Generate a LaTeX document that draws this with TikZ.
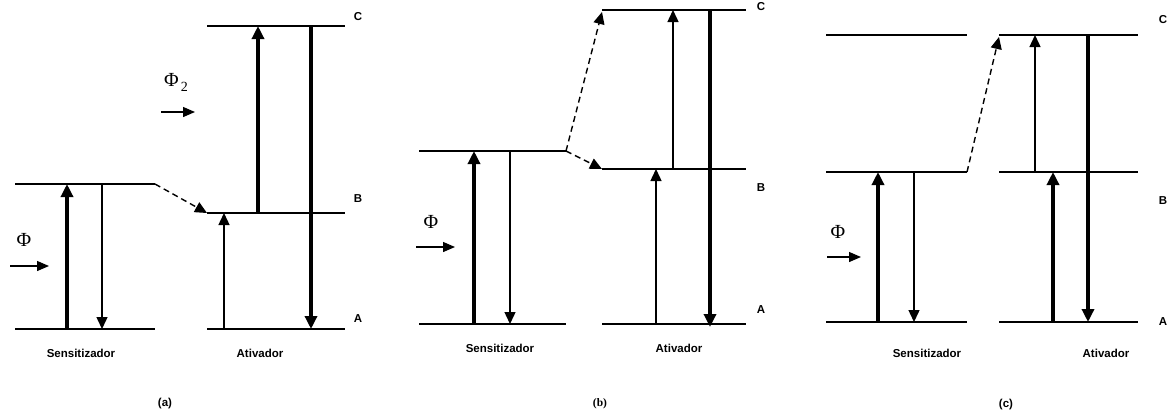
\documentclass[tikz,border=0pt]{standalone}
\usepackage{fontspec}
\setmainfont{Liberation Sans}
\newfontfamily\serifgr{Liberation Serif}
\usetikzlibrary{arrows.meta}
\begin{document}
\begin{tikzpicture}[x=1pt,y=-1pt,
 level/.style={line width=1.2pt},
 thinarr/.style={line width=1.4pt,-{Triangle[length=12pt,width=11pt]}},
 thickarr/.style={line width=3.6pt,-{Triangle[length=13pt,width=12pt]}},
 transfer/.style={line width=1.4pt,dash pattern=on 6pt off 4pt,-{Triangle[length=12pt,width=11pt]}},
 lbl/.style={font=\bfseries\fontsize{11.5}{13}\selectfont, inner sep=0pt},
 phi/.style={font=\serifgr\fontsize{20}{22}\selectfont, inner sep=0pt},
 flux/.style={line width=1.3pt,-{Triangle[length=12pt,width=10pt]}}]
\useasboundingbox (0,0) rectangle (1173,416);
% ---------------- panel (a)
\coordinate (aS1l) at (15,184); \coordinate (aS1r) at (155,184);
\coordinate (aS0l) at (15,329); \coordinate (aS0r) at (155,329);
\coordinate (aACl) at (207,26); \coordinate (aACr) at (345,26);
\coordinate (aABl) at (207,213); \coordinate (aABr) at (345,213);
\coordinate (aAAl) at (207,329); \coordinate (aAAr) at (345,329);
\draw[level] (aS1l) -- (aS1r);
\draw[level] (aS0l) -- (aS0r);
\draw[level] (aACl) -- (aACr);
\draw[level] (aABl) -- (aABr);
\draw[level] (aAAl) -- (aAAr);
\coordinate (a1b) at (67,329); \coordinate (a1t) at (67,184);
\coordinate (a2t) at (102,184); \coordinate (a2b) at (102,329);
\coordinate (a3b) at (224,329); \coordinate (a3t) at (224,213);
\coordinate (a4b) at (258,213); \coordinate (a4t) at (258,26);
\coordinate (a5t) at (311,26); \coordinate (a5b) at (311,329);
\draw[thickarr] (a1b) -- (a1t);
\draw[thinarr] (a2t) -- (a2b);
\draw[thinarr] (a3b) -- (a3t);
\draw[thickarr] (a4b) -- (a4t);
\draw[thickarr] (a5t) -- (a5b);
\draw[transfer] (aS1r) -- (aABl);
\node[phi] (aphi) at (24,240) {Φ};
\coordinate (af1) at (10,266); \coordinate (af2) at (49,266);
\draw[flux] (af1) -- (af2);
\node[phi] (aphi2) at (176,82) {Φ\raisebox{-5pt}{\fontsize{14}{14}\selectfont\,2}};
\coordinate (ag1) at (161,112); \coordinate (ag2) at (195,112);
\draw[flux] (ag1) -- (ag2);
\node[lbl] (aC) at (358,17) {C};
\node[lbl] (aB) at (358,199) {B};
\node[lbl] (aA) at (358,319) {A};
\node[lbl] (aSens) at (81,353) {Sensitizador};
\node[lbl] (aAtiv) at (260,353) {Ativador};
\node[lbl] (acap) at (165,404) {(a)};
% ---------------- panel (b)
\coordinate (bS1l) at (419,151); \coordinate (bS1r) at (566,151);
\coordinate (bS0l) at (419,324); \coordinate (bS0r) at (566,324);
\coordinate (bACl) at (602,10); \coordinate (bACr) at (746,10);
\coordinate (bABl) at (602,169); \coordinate (bABr) at (746,169);
\coordinate (bAAl) at (602,324); \coordinate (bAAr) at (746,324);
\draw[level] (bS1l) -- (bS1r);
\draw[level] (bS0l) -- (bS0r);
\draw[level] (bACl) -- (bACr);
\draw[level] (bABl) -- (bABr);
\draw[level] (bAAl) -- (bAAr);
\coordinate (b1b) at (474,324); \coordinate (b1t) at (474,151);
\coordinate (b2t) at (510,151); \coordinate (b2b) at (510,324);
\coordinate (b3b) at (656,324); \coordinate (b3t) at (656,169);
\coordinate (b4b) at (673,169); \coordinate (b4t) at (673,10);
\coordinate (b5t) at (710,10); \coordinate (b5b) at (710,327);
\draw[thickarr] (b1b) -- (b1t);
\draw[thinarr] (b2t) -- (b2b);
\draw[thinarr] (b3b) -- (b3t);
\draw[thinarr] (b4b) -- (b4t);
\draw[thickarr] (b5t) -- (b5b);
\coordinate (bCend) at (602,12);
\draw[transfer] (bS1r) -- (bCend);
\draw[transfer] (bS1r) -- (bABl);
\node[phi] (bphi) at (431,222) {Φ};
\coordinate (bf1) at (416,247); \coordinate (bf2) at (455,247);
\draw[flux] (bf1) -- (bf2);
\node[lbl] (bC) at (761,7) {C};
\node[lbl] (bB) at (761,188) {B};
\node[lbl] (bA) at (761,310) {A};
\node[lbl] (bSens) at (500,348) {Sensitizador};
\node[lbl] (bAtiv) at (679,348) {Ativador};
\node[lbl,font=\serifgr\bfseries\fontsize{11.5}{13}\selectfont] (bcap) at (600,404) {(b)};
% ---------------- panel (c)
\coordinate (cS2l) at (826,35); \coordinate (cS2r) at (967,35);
\coordinate (cS1l) at (826,172); \coordinate (cS1r) at (967,172);
\coordinate (cS0l) at (826,322); \coordinate (cS0r) at (967,322);
\coordinate (cACl) at (999,35); \coordinate (cACr) at (1138,35);
\coordinate (cABl) at (999,172); \coordinate (cABr) at (1138,172);
\coordinate (cAAl) at (999,322); \coordinate (cAAr) at (1138,322);
\draw[level] (cS2l) -- (cS2r);
\draw[level] (cS1l) -- (cS1r);
\draw[level] (cS0l) -- (cS0r);
\draw[level] (cACl) -- (cACr);
\draw[level] (cABl) -- (cABr);
\draw[level] (cAAl) -- (cAAr);
\coordinate (c1b) at (878,322); \coordinate (c1t) at (878,172);
\coordinate (c2t) at (914,172); \coordinate (c2b) at (914,322);
\coordinate (c3b) at (1035,172); \coordinate (c3t) at (1035,35);
\coordinate (c4b) at (1053,322); \coordinate (c4t) at (1053,172);
\coordinate (c5t) at (1088,35); \coordinate (c5b) at (1088,322);
\draw[thickarr] (c1b) -- (c1t);
\draw[thinarr] (c2t) -- (c2b);
\draw[thinarr] (c3b) -- (c3t);
\draw[thickarr] (c4b) -- (c4t);
\draw[thickarr] (c5t) -- (c5b);
\coordinate (cCend) at (999,37);
\draw[transfer] (cS1r) -- (cCend);
\node[phi] (cphi) at (838,232) {Φ};
\coordinate (cf1) at (827,257); \coordinate (cf2) at (861,257);
\draw[flux] (cf1) -- (cf2);
\node[lbl] (cC) at (1163,20) {C};
\node[lbl] (cB) at (1163,201) {B};
\node[lbl] (cA) at (1163,322) {A};
\node[lbl] (cSens) at (927,353) {Sensitizador};
\node[lbl] (cAtiv) at (1106,353) {Ativador};
\node[lbl] (ccap) at (1006,405) {(c)};
\end{tikzpicture}
\end{document}
